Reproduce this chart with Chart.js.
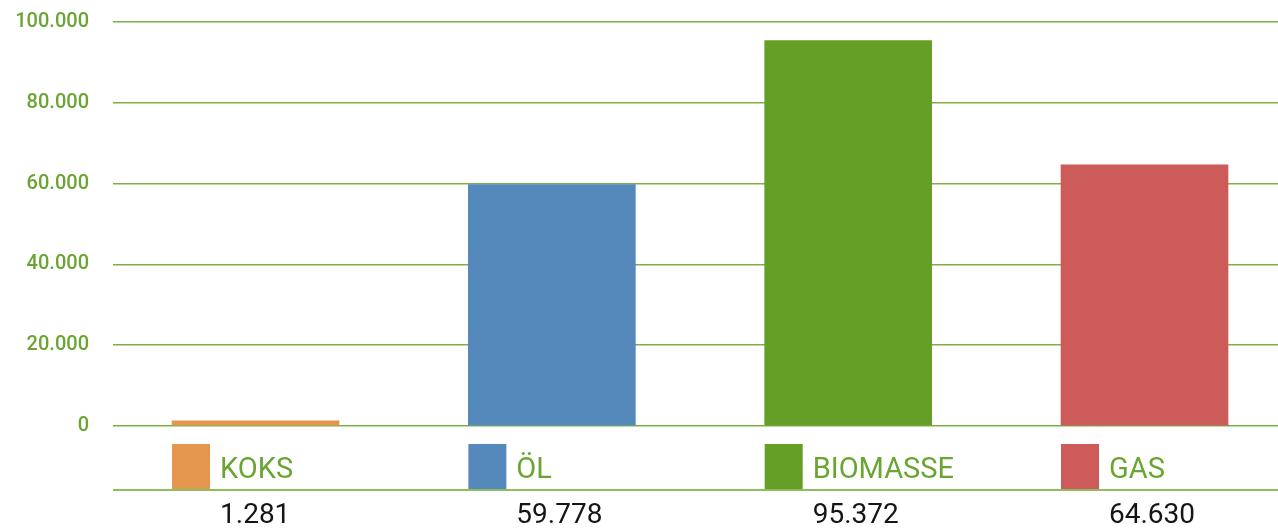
<!DOCTYPE html>
<html><head><meta charset="utf-8">
<script src="https://cdn.jsdelivr.net/npm/chart.js@4"></script>
<style>html,body{margin:0;padding:0;background:#fff;overflow:hidden}#wrap{width:1278px;height:532px;position:relative}</style>
</head><body><div id="wrap"><canvas id="c" width="1278" height="532"></canvas></div>
<script>
const categories = ['KOKS', 'ÖL', 'BIOMASSE', 'GAS'];
const values = [1281, 59778, 95372, 64630];
const valueLabels = ['1.281', '59.778', '95.372', '64.630'];
const colors = ['#e4964d', '#5588bb', '#669f25', '#cc5b59'];
const yTicks = [0, 20000, 40000, 60000, 80000, 100000];

const green = '#6aa534';
const fmt = v => v === 0 ? '0' : (v / 1000).toFixed(0) + '.000';

const bottomPlugin = {
  id: 'bottomRow',
  afterDraw(chart) {
    const ctx = chart.ctx, xs = chart.scales.x, ys = chart.scales.y, area = chart.chartArea;
    const zero = ys.getPixelForValue(0);
    const half = 83.5;
    ctx.save();
    categories.forEach((cat, i) => {
      const cx = xs.getPixelForValue(i);
      const left = cx - half;
      ctx.fillStyle = colors[i];
      ctx.fillRect(left, zero + 18, 38, 46);
      ctx.fillStyle = green;
      ctx.font = '400 29px Roboto';
      ctx.textBaseline = 'alphabetic';
      ctx.textAlign = 'left';
      ctx.fillText(cat, left + 48, zero + 52);
      ctx.fillStyle = '#151515';
      ctx.font = '400 28px Roboto';
      ctx.fillText(valueLabels[i], left + 48, zero + 97);
    });
    ctx.strokeStyle = '#8cbd5e';
    ctx.lineWidth = 2;
    ctx.beginPath();
    ctx.moveTo(area.left, zero + 64);
    ctx.lineTo(area.right, zero + 64);
    ctx.stroke();
    ctx.restore();
  }
};

new Chart(document.getElementById('c'), {
  type: 'bar',
  data: {
    datasets: [{
      data: values.map((v, i) => ({ x: i, y: v })),
      backgroundColor: colors,
      borderWidth: 0,
      barThickness: 167
    }]
  },
  options: {
    responsive: false,
    animation: false,
    devicePixelRatio: 1,
    layout: { padding: { top: 22, bottom: 106, left: 0, right: 0 } },
    plugins: { legend: { display: false }, tooltip: { enabled: false } },
    scales: {
      x: { type: 'linear', offset: false, min: -0.481, max: 3.4505, display: false, grid: { display: false, offset: false } },
      y: {
        min: 0, max: 100000,
        afterBuildTicks(scale) { scale.ticks = yTicks.map(v => ({ value: v })); },
        afterFit(scale) { scale.width = 113; },
        border: { display: false },
        grid: { color: '#7ab045', lineWidth: 1.5, drawTicks: true, tickLength: 24, tickColor: 'rgba(0,0,0,0)' },
        ticks: {
          padding: 0,
          color: green,
          font: { family: 'Roboto', size: 20, weight: '500' },
          callback: v => fmt(v)
        }
      }
    }
  },
  plugins: [bottomPlugin]
});
</script></body></html>
